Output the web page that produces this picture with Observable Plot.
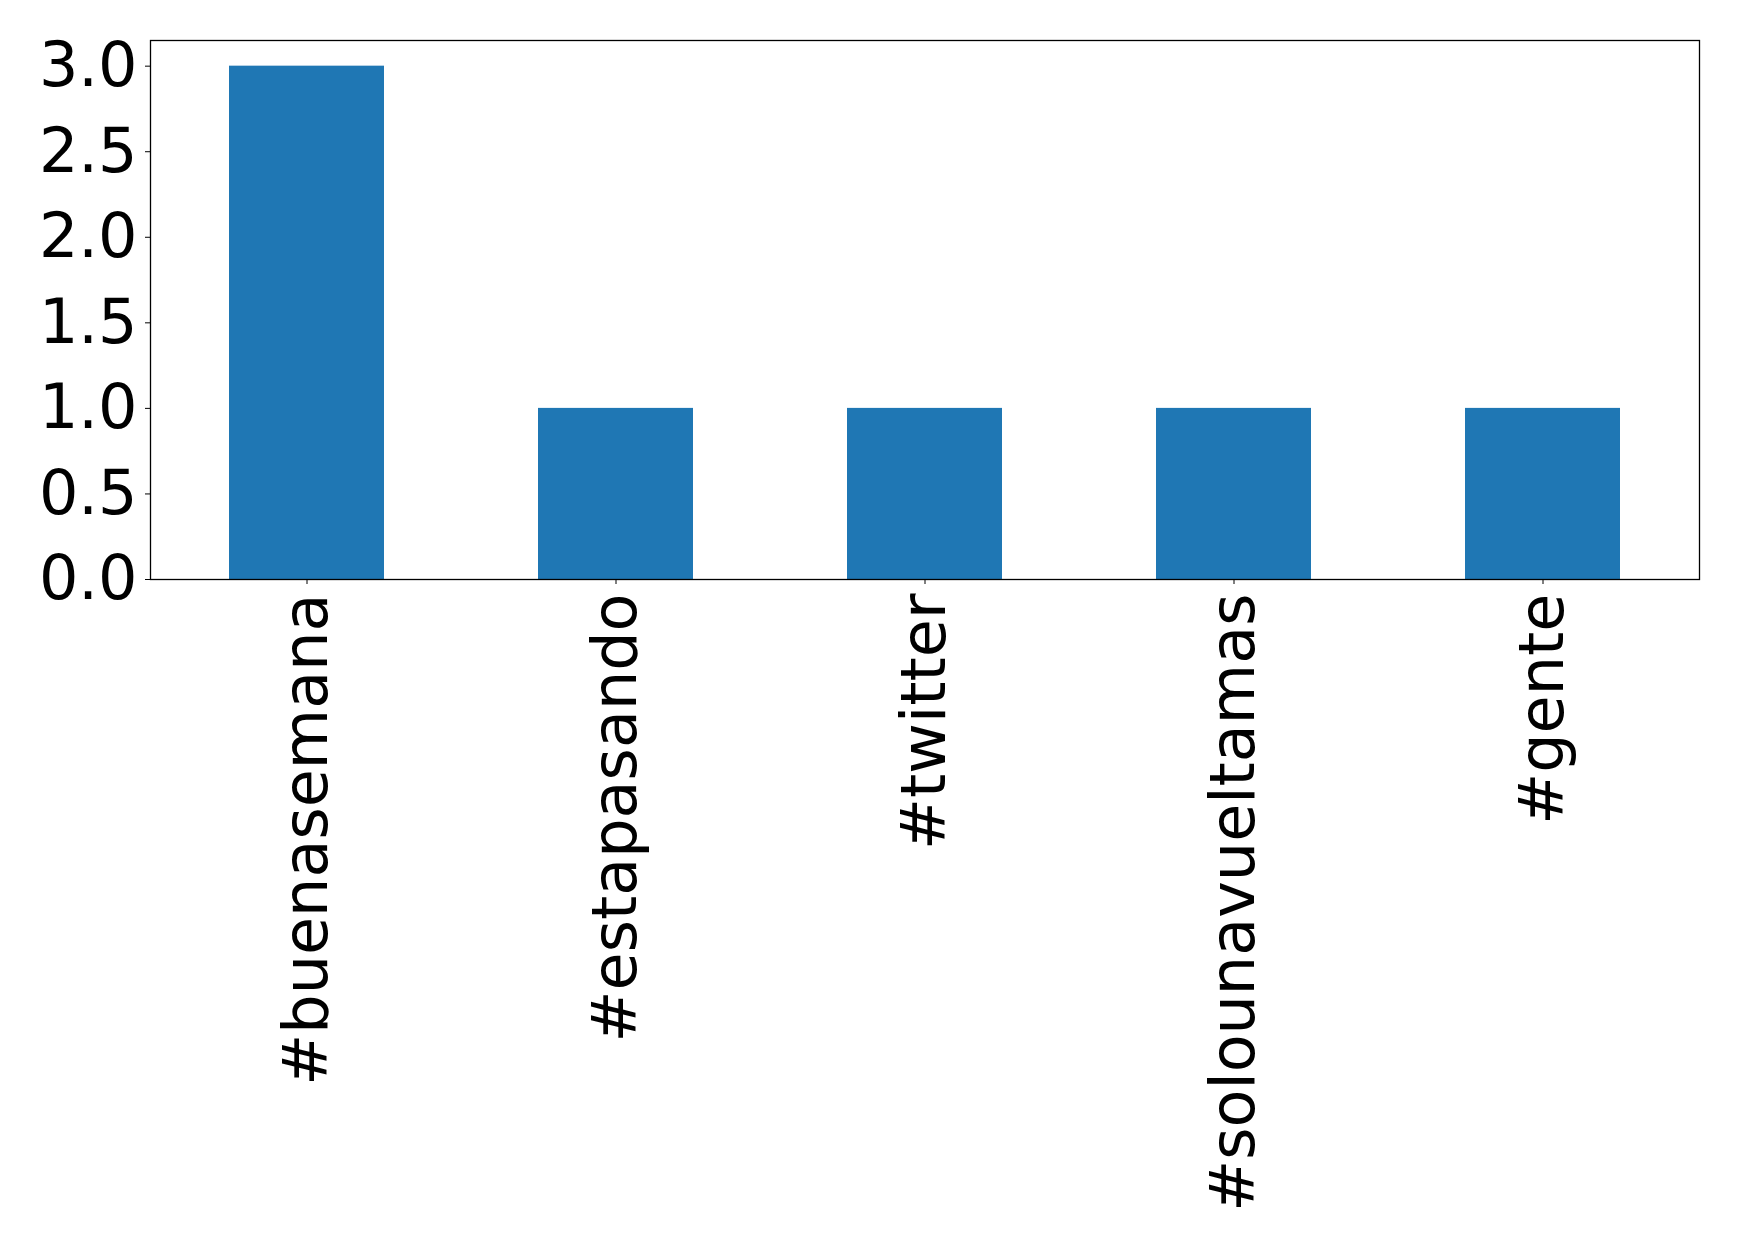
<!DOCTYPE html>
<html>
<head>
<meta charset="utf-8">
<script src="https://cdn.jsdelivr.net/npm/d3@7"></script>
<script src="https://cdn.jsdelivr.net/npm/@observablehq/plot@0.6"></script>
<style>
  html, body { margin: 0; padding: 0; background: #fff; }
  svg { display: block; }
</style>
</head>
<body>
<div id="chart"></div>
<script>
const categories = ["#buenasemana", "#estapasando", "#twitter", "#solounavueltamas", "#gente"];
const counts = [3, 1, 1, 1, 1];
const yTicks = [0, 0.5, 1.0, 1.5, 2.0, 2.5, 3.0];

const data = categories.map((c, i) => ({tag: c, count: counts[i]}));

const chart = Plot.plot({
  width: 1739,
  height: 1251,
  marginLeft: 150,
  marginRight: 40,
  marginTop: 40,
  marginBottom: 672,
  style: {fontFamily: "DejaVu Sans", background: "#fff", color: "#000"},
  x: {domain: categories, paddingInner: 0.5, paddingOuter: 0.25, label: null},
  y: {domain: [0, 3.15], label: null},
  marks: [
    Plot.barY(data, {x: "tag", y: "count", fill: "#1f77b4"}),
    Plot.frame({stroke: "#000", strokeWidth: 1.3}),
    Plot.axisY({ticks: yTicks, tickFormat: d3.format(".1f"), tickSize: 5, tickPadding: 8, fontSize: 62, label: null, stroke: "#000", strokeOpacity: 1}),
    Plot.axisX({tickSize: 5, tickPadding: 9, tickRotate: -90, fontSize: 62, label: null, stroke: "#000", strokeOpacity: 1})
  ]
});
document.getElementById("chart").appendChild(chart);
</script>
</body>
</html>
